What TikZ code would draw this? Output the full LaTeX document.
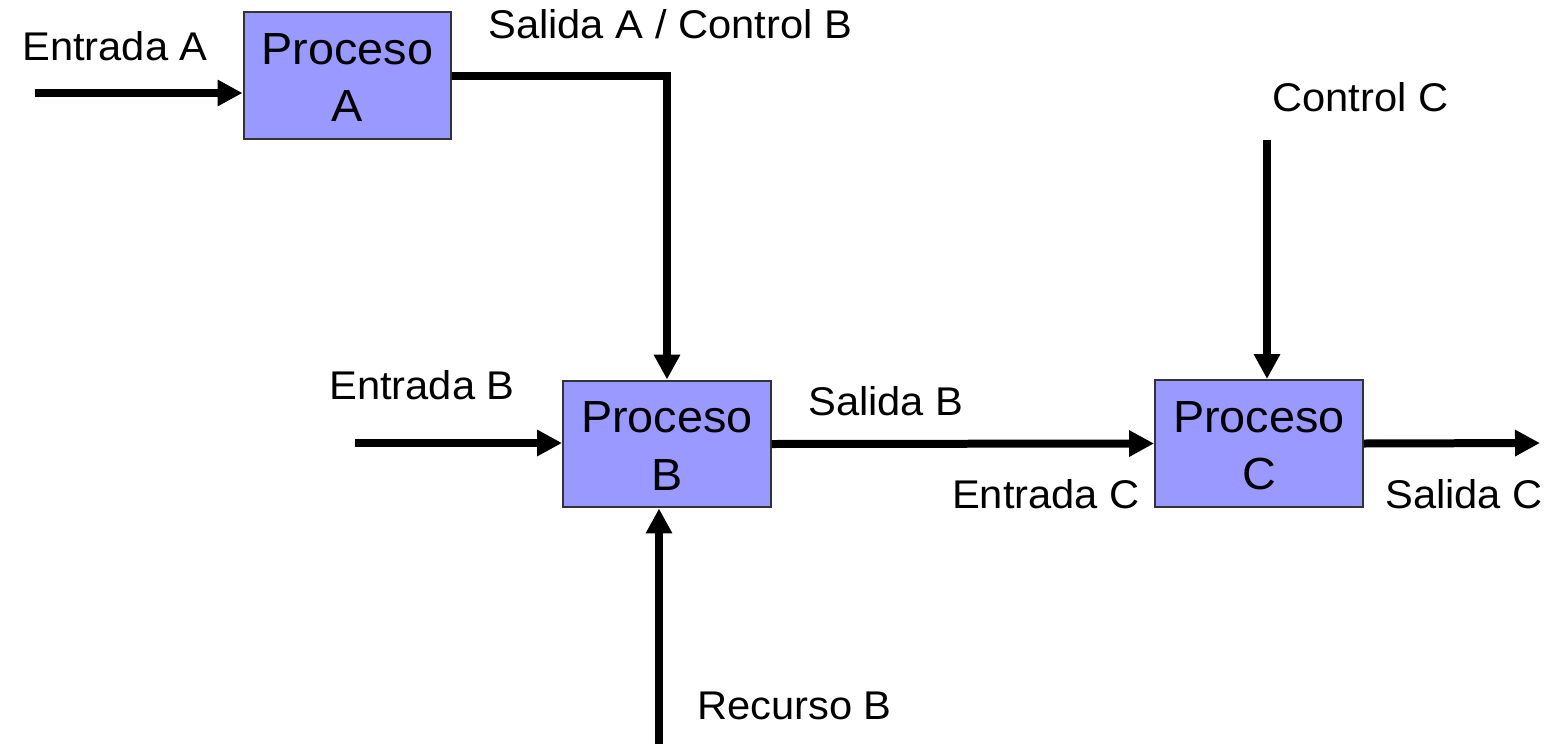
\documentclass[tikz,border=0pt]{standalone}
\usepackage{fontspec}
\setmainfont{Liberation Sans}[FakeStretch=1.04]
\usetikzlibrary{arrows.meta}
\definecolor{procfill}{HTML}{9999FF}

\begin{document}
\begin{tikzpicture}[>={Triangle[length=0.5cm,width=0.5cm]}, x=0.02cm, y=-0.02cm,
  proc/.style={draw=black!80, line width=0.04cm, fill=procfill, minimum width=4.16cm, minimum height=2.54cm, align=center, inner sep=0pt, text height=1.86cm, text depth=0cm, font=\fontsize{25.6}{33}\selectfont},
  lbl/.style={inner sep=0pt, anchor=base west, font=\fontsize{22.8}{27}\selectfont},
  flow/.style={->, line width=0.16cm}]
  \useasboundingbox (0,0) rectangle (1549,744);
  % procesos
  \node[proc] (pa) at (347.5,75.5) {Proceso\\A};
  \node[proc] (pb) at (667,444) {Proceso\\B};
  \node[proc] (pc) at (1259,443.5) {Proceso\\C};
  % extremos libres
  \coordinate (ina) at (35,93);
  \coordinate (inb) at (355,443);
  \coordinate (recb) at (659,744);
  \coordinate (ctlc) at (1267,140);
  \coordinate (outc) at (1540,443);
  % flechas
  \draw[flow] (ina) -- (ina -| pa.west);
  \draw[flow] (pa.east) -| (pb.north);
  \draw[flow] (inb) -- (inb -| pb.west);
  \draw[flow] (recb) -- (recb |- pb.south);
  \draw[flow] (pb.east) -- (pc.west);
  \draw[flow] (ctlc) -- (ctlc |- pc.north);
  \draw[flow] (pc.east) -- (outc);
  % etiquetas
  \node[lbl] (lea) at (22,60) {Entrada A};
  \node[lbl] (lsa) at (488,38) {Salida A / Control B};
  \node[lbl] (leb) at (329,399) {Entrada B};
  \node[lbl] (lsb) at (808,415) {Salida B};
  \node[lbl, anchor=base east] (lec) at (1140,508) {Entrada C};
  \node[lbl] (lcc) at (1272,111) {Control C};
  \node[lbl] (lsc) at (1385,508) {Salida C};
  \node[lbl] (lrb) at (697,719) {Recurso B};
\end{tikzpicture}
\end{document}
